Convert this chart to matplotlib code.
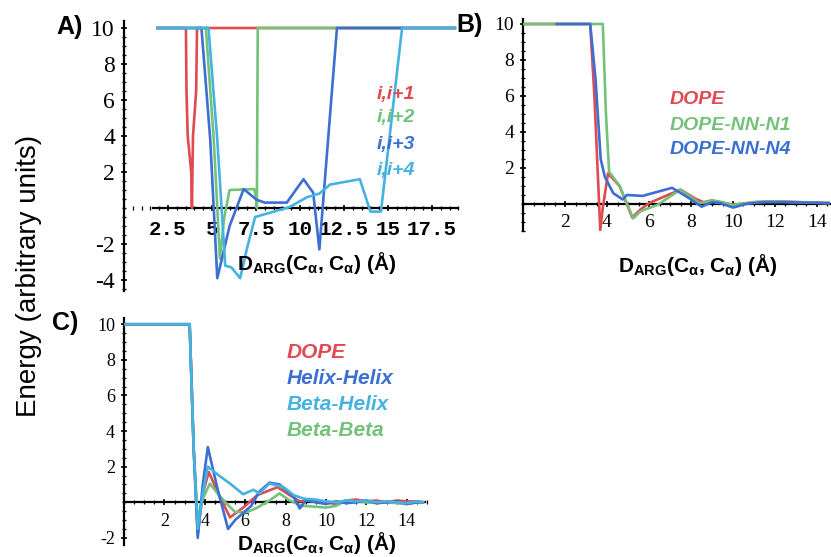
import matplotlib.pyplot as plt
from matplotlib.ticker import MultipleLocator, FixedLocator

plt.rcParams['font.family'] = ['Liberation Sans', 'DejaVu Sans']
plt.rcParams['mathtext.fontset'] = 'custom'
plt.rcParams['mathtext.rm'] = 'Liberation Sans:bold'
plt.rcParams['mathtext.it'] = 'Liberation Sans:bold'
plt.rcParams['mathtext.bf'] = 'Liberation Sans:bold'

RED = '#e04a50'
GREEN = '#74c27a'
BLUE = '#3b6fd2'
CYAN = '#45b2e2'

# panel A: sequence separation
a_labels = ["i,i+1", "i,i+2", "i,i+3", "i,i+4"]
a1_x = [1.9, 3.52, 3.55, 3.62, 3.82, 3.86, 3.92, 4.1, 4.15, 18.8]
a1_y = [10, 10, 6.5, 4.0, 2.0, 0.0, 4.0, 6.5, 10, 10]
a2_x = [1.9, 4.65, 5.1, 5.45, 5.7, 6.0, 7.4, 7.5, 7.55, 7.6, 18.8]
a2_y = [10, 10, 3.8, -2.8, -0.5, 1.0, 1.05, 0.6, 0.0, 10, 10]
a3_x = [1.9, 4.4, 4.9, 5.3, 6.0, 6.8, 7.55, 8.0, 9.25, 10.2, 10.75, 11.1, 12.1, 18.8]
a3_y = [10, 10, 3.8, -3.9, -1.0, 1.05, 0.45, 0.3, 0.3, 1.6, 0.85, -2.3, 10, 10]
a4_x = [1.9, 4.8, 5.3, 5.75, 6.1, 6.6, 7.0, 7.45, 9.4, 10.4, 11.1, 11.7, 13.4,
        14.0, 14.6, 15.8, 18.8]
a4_y = [10, 10, 3.8, -3.2, -3.3, -3.9, -2.2, -0.5, 0.05, 0.6, 0.8, 1.3, 1.6,
        -0.2, -0.2, 10, 10]

# panel B: DOPE variants
b_labels = ["DOPE", "DOPE-NN-N1", "DOPE-NN-N4"]
b1_x = [0, 3.2, 3.4, 3.55, 3.68, 3.8, 4.05, 4.6, 5.2, 5.6, 6.0, 6.5, 7.5, 8.2,
        8.6, 9.0, 10.0, 11.0, 12.0, 14.6]
b1_y = [10, 10, 6, 2, -1.45, -0.2, 1.7, 1.0, -0.75, -0.3, 0.05, 0.3, 0.8, 0.3,
        0.1, 0.2, -0.05, 0.1, 0.15, 0.05]
b2_x = [0, 3.8, 3.95, 4.1, 4.6, 5.25, 5.6, 6.4, 7.5, 8.4, 8.7, 9.0, 9.5, 10.0,
        11.0, 12.0, 13.0, 14.6]
b2_y = [10, 10, 5, 1.8, 1.0, -0.8, -0.4, -0.05, 0.8, 0.05, 0.1, 0.2, 0.1, -0.05,
        0.1, 0.15, 0.1, 0.05]
b3_x = [1.6, 3.2, 3.45, 3.7, 3.9, 4.3, 4.75, 4.95, 5.7, 7.1, 7.9, 8.5, 9.0, 9.4,
        10.0, 10.6, 11.4, 12.5, 14.6]
b3_y = [10, 10, 7, 2.5, 1.5, 0.6, 0.25, 0.5, 0.45, 0.9, 0.33, -0.15, 0.1, 0.05,
        -0.2, 0.0, 0.1, 0.1, 0.05]

# panel C: secondary structure
c_labels = ["DOPE", "Helix-Helix", "Beta-Helix", "Beta-Beta"]
c1_x = [0, 3.25, 3.45, 3.65, 3.9, 4.2, 4.7, 5.25, 5.9, 6.6, 7.6, 8.2, 8.7, 9.2,
        10.0, 10.5, 11.0, 11.5, 12.0, 12.5, 13.0, 13.5, 14.0, 14.5, 14.8]
c1_y = [10, 10, 3.0, -1.8, 0.5, 1.7, 0.4, -0.85, -0.3, 0.4, 0.85, 0.4, 0.05, 0.1,
        0.0, -0.1, 0.1, 0.15, 0.05, 0.1, 0.0, 0.1, 0.05, 0.05, 0.0]
c2_x = [0, 3.25, 3.45, 3.65, 3.9, 4.15, 4.6, 5.15, 5.5, 5.9, 6.3, 6.7, 7.2, 7.7,
        8.1, 8.4, 8.7, 9.0, 9.5, 10.0, 10.5, 11.0, 11.5, 12.0, 12.5, 13.0, 13.5,
        14.0, 14.5, 14.8]
c2_y = [10, 10, 3.0, -2.0, 1.0, 3.1, 0.9, -1.5, -1.0, -0.6, -0.2, 0.6, 1.1, 1.0,
        0.6, 0.3, -0.35, 0.1, 0.0, -0.1, 0.05, -0.05, 0.0, 0.1, -0.05, 0.0, 0.05,
        -0.1, 0.0, 0.0]
c3_x = [0, 3.25, 3.45, 3.65, 3.9, 4.15, 4.7, 5.25, 5.9, 6.4, 6.7, 7.2, 7.9, 8.4,
        8.9, 9.5, 10.0, 10.5, 11.0, 11.5, 12.0, 12.5, 13.0, 13.5, 14.0, 14.5, 14.8]
c3_y = [10, 10, 3.0, -1.5, 0.5, 2.0, 1.5, 1.05, 0.45, 0.7, 0.5, 1.05, 0.85, 0.4,
        0.2, 0.15, 0.05, 0.0, 0.1, 0.05, 0.1, 0.0, 0.05, 0.0, -0.05, 0.05, 0.0]
c4_x = [0, 3.25, 3.45, 3.65, 3.9, 4.25, 4.7, 5.1, 5.5, 6.1, 6.6, 7.2, 7.7, 8.2,
        8.8, 9.5, 10.0, 10.5, 11.0, 11.5, 12.0, 12.5, 13.0, 13.5, 14.0, 14.5, 14.8]
c4_y = [10, 10, 3.0, -1.0, 0.2, 1.05, 0.4, -0.1, -0.55, -0.55, -0.3, 0.1, 0.5, 0.1,
        -0.2, -0.25, -0.3, -0.2, 0.1, 0.05, 0.0, -0.05, 0.0, -0.05, -0.1, 0.0, 0.0]

W, H = 831, 557
fig = plt.figure(figsize=(W / 100, H / 100), dpi=100)


def px_axes(x0, y_top, x1, y_bot):
    return fig.add_axes([x0 / W, 1 - y_bot / H, (x1 - x0) / W, (y_bot - y_top) / H])


def style(ax, xlim, ylim, xticks, yticks, xminor, yminor, xbounds, xfont, yfont, xpad):
    ax.set_xlim(*xlim)
    ax.set_ylim(*ylim)
    ax.patch.set_alpha(0)
    for s in ['top', 'right']:
        ax.spines[s].set_visible(False)
    ax.spines['left'].set_position(('data', 0))
    ax.spines['bottom'].set_position(('data', 0))
    ax.spines['bottom'].set_bounds(*xbounds)
    for s in ['left', 'bottom']:
        ax.spines[s].set_linewidth(1.6)
        ax.spines[s].set_zorder(1)
    ax.xaxis.set_major_locator(FixedLocator(xticks))
    ax.yaxis.set_major_locator(FixedLocator(yticks))
    ax.xaxis.set_minor_locator(MultipleLocator(xminor))
    ax.yaxis.set_minor_locator(MultipleLocator(yminor))
    ax.tick_params(which='major', direction='inout', length=5, width=1.2)
    ax.tick_params(which='minor', direction='inout', length=3, width=0.9)
    ax.tick_params(axis='x', which='major', pad=xpad)
    ax.tick_params(axis='y', which='major', pad=4)
    ax.set_xticklabels([('%g' % t) for t in xticks], **xfont)
    ax.set_yticklabels([('%g' % t) for t in yticks], **yfont)


xlab = r'D$_{\mathrm{ARG}}$(C$_{\mathrm{α}}$, C$_{\mathrm{α}}$) (Å)'

# ---- A ----
axA = px_axes(124, 20.8, 124 + 19 * 17.6, 290.8)
for x, y, c in zip([a1_x, a2_x, a3_x, a4_x], [a1_y, a2_y, a3_y, a4_y],
                   [RED, GREEN, BLUE, CYAN]):
    axA.plot(x, y, color=c, lw=1.9, zorder=3)
style(axA, (0, 19), (-4.6, 10.4), [2.5, 5, 7.5, 10, 12.5, 15, 17.5],
      [-4, -2, 2, 4, 6, 8, 10], 0.5, 0.5, (1.65, 19),
      dict(family='Liberation Mono', fontsize=15, fontweight='bold'),
      dict(family='Liberation Serif', fontsize=17), 6)
for lab, c, yy in zip(a_labels, [RED, GREEN, BLUE, CYAN], [94, 118, 145, 170]):
    fig.text(377 / W, 1 - yy / H, lab, color=c, fontsize=14, fontweight='bold',
             fontstyle='italic', va='center', ha='left')
fig.text(317 / W, 1 - 263 / H, xlab, fontsize=15, fontweight='bold', ha='center', va='center')

# ---- B ----
axB = px_axes(523, 18.6, 523 + 14.6 * 21.0, 231)
for x, y, c in zip([b1_x, b2_x, b3_x], [b1_y, b2_y, b3_y], [RED, GREEN, BLUE]):
    axB.plot(x, y, color=c, lw=1.9, zorder=3)
style(axB, (0, 14.6), (-1.5, 10.3), [2, 4, 6, 8, 10, 12, 14],
      [2, 4, 6, 8, 10], 0.5, 0.5, (0, 14.6),
      dict(family='Liberation Serif', fontsize=14),
      dict(family='Liberation Serif', fontsize=14), 5)
for lab, c, yy in zip(b_labels, [RED, GREEN, BLUE], [99, 125, 150]):
    fig.text(670 / W, 1 - yy / H, lab, color=c, fontsize=14, fontweight='bold',
             fontstyle='italic', va='center', ha='left')
fig.text(698 / W, 1 - 265 / H, xlab, fontsize=15, fontweight='bold', ha='center', va='center')

# ---- C ----
axC = px_axes(124, 318, 124 + 15.1 * 20.2, 545)
for x, y, c in zip([c1_x, c4_x, c2_x, c3_x], [c1_y, c4_y, c2_y, c3_y],
                   [RED, GREEN, BLUE, CYAN]):
    axC.plot(x, y, color=c, lw=1.9, zorder=3)
style(axC, (0, 15.1), (-2.4, 10.35), [2, 4, 6, 8, 10, 12, 14],
      [-2, 2, 4, 6, 8, 10], 0.5, 0.5, (0, 14.9),
      dict(family='Liberation Serif', fontsize=13),
      dict(family='Liberation Serif', fontsize=13), 5)
for lab, c, yy in zip(c_labels, [RED, BLUE, CYAN, GREEN], [353, 379, 405, 430]):
    fig.text(287 / W, 1 - yy / H, lab, color=c, fontsize=15, fontweight='bold',
             fontstyle='italic', va='center', ha='left')
fig.text(317 / W, 1 - 543 / H, xlab, fontsize=15, fontweight='bold', ha='center', va='center')

# panel letters and shared y label
for lab, xx, yy in [("A)", 56, 27), ("B)", 456, 25), ("C)", 52, 323)]:
    fig.text(xx / W, 1 - yy / H, lab, fontsize=18, fontweight='bold', ha='left', va='center')
fig.text(29 / W, 1 - 276 / H, "Energy (arbitrary units)", fontsize=20,
         rotation=90, ha='center', va='center')

fig.savefig('out.png', dpi=100)
